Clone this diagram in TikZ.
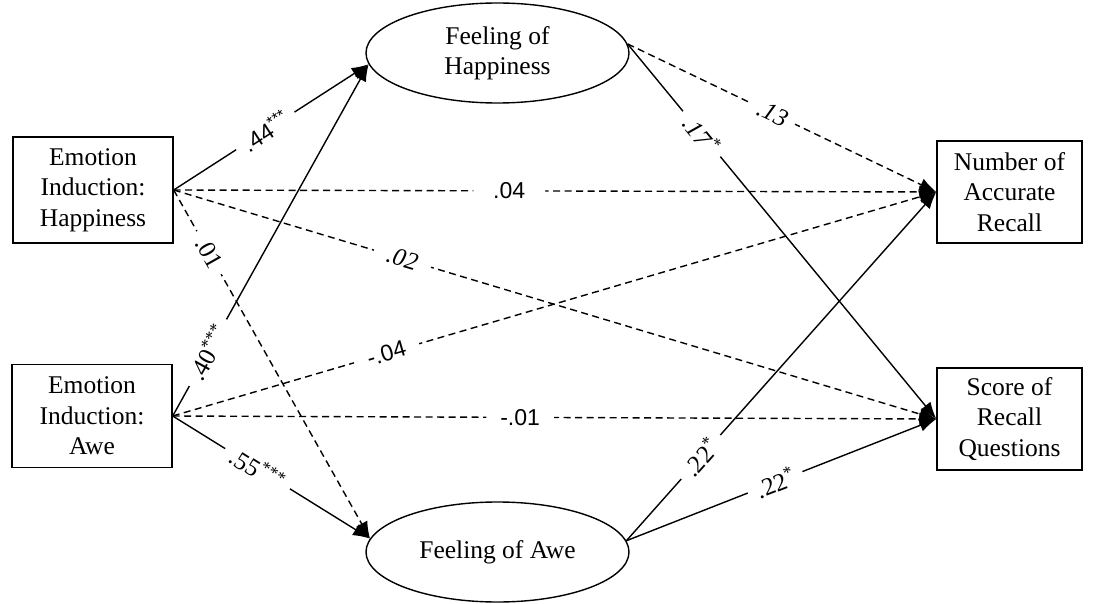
\documentclass[tikz,border=0pt]{standalone}
\usepackage{fontspec}
\setmainfont{Liberation Serif}
\newfontfamily\arialf{Liberation Sans}
\usetikzlibrary{arrows.meta,shapes.geometric}
\begin{document}
\begin{tikzpicture}[x=1pt,y=-1pt,
  box/.style={draw, line width=1.4pt, inner sep=0pt, align=center, font=\fontsize{25.5}{30.5}\selectfont},
  ell/.style={draw, ellipse, line width=1.4pt, inner sep=0pt, align=center, minimum width=263pt, font=\fontsize{25.5}{30.5}\selectfont},
  arr/.style={-{Latex[length=17pt,width=13pt]}, line width=1.4pt},
  dsh/.style={arr, dash pattern=on 7pt off 4.5pt},
  lbl/.style={sloped, fill=white, inner xsep=9pt, inner ysep=1pt},
  sans/.style={font=\arialf\fontsize{23}{23}\selectfont},
  ser/.style={font=\fontsize{25}{25}\selectfont},
  ital/.style={font=\itshape\fontsize{25}{25}\selectfont}
]
\useasboundingbox (0,0) rectangle (1095,604);
\node[box, minimum width=160pt, minimum height=106pt] (hi) at (93,190) {Emotion\\Induction:\\Happiness};
\node[box, minimum width=160pt, minimum height=103pt] (ai) at (92,416) {Emotion\\Induction:\\Awe};
\node[box, minimum width=145pt, minimum height=102pt] (nr) at (1009.5,192) {Number of\\Accurate\\Recall};
\node[box, minimum width=145pt, minimum height=102pt] (sr) at (1009.5,419) {Score of\\Recall\\Questions};
\node[ell, minimum height=100pt] (fh) at (497.5,53) {Feeling of\\Happiness};
\node[ell, minimum height=100pt] (fa) at (497.5,552) {Feeling of Awe};

% dashed paths
\draw[dsh] (hi.east) -- node[lbl, pos=0.44, sans, inner xsep=20pt]{.04} (nr.west);
\draw[dsh] (hi.east) -- node[lbl, pos=0.30, ital, inner xsep=14pt]{.02} (sr.west);
\draw[dsh] (ai.east) -- node[lbl, pos=0.28, sans, inner xsep=14pt]{-.04} (nr.west);
\draw[dsh] (ai.east) -- node[lbl, pos=0.455, sans, inner xsep=14pt]{-.01} (sr.west);
\draw[dsh] (hi.east) -- node[lbl, pos=0.18, ser]{.01} (fa.174);
\draw[dsh] (fh.4) -- node[lbl, pos=0.47, ital]{.13} (nr.west);

% solid paths
\draw[arr] (hi.east) -- node[lbl, pos=0.47, sans]{.44\textsuperscript{***}} (fh.185);
\draw[arr] (ai.east) -- node[lbl, pos=0.18, ser]{.40\textsuperscript{***}} (fh.185);
\draw[arr] (ai.east) -- node[lbl, pos=0.43, ser]{.55\textsuperscript{***}} (fa.174);
\draw[arr] (fh.4) -- node[lbl, pos=0.24, ital]{.17\textsuperscript{*}} (sr.west);
\draw[arr] (fa.5) -- node[lbl, pos=0.24, ser]{.22\textsuperscript{*}} (nr.west);
\draw[arr] (fa.5) -- node[lbl, pos=0.48, ser]{.22\textsuperscript{*}} (sr.west);
\end{tikzpicture}
\end{document}
